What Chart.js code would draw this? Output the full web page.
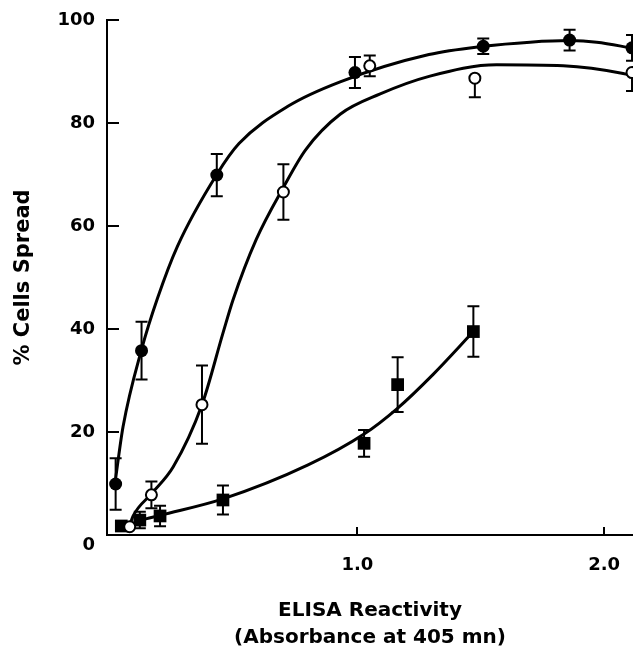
<!DOCTYPE html>
<html>
<head>
<meta charset="utf-8">
<script src="https://cdn.jsdelivr.net/npm/chart.js@4.4.1/dist/chart.umd.min.js"></script>
<style>
  html, body { margin: 0; padding: 0; background: #fff; }
</style>
</head>
<body>
<canvas id="grafico" width="633" height="651"></canvas>
<script>
// puntos medidos (x = absorbancia, y = % celulas)
const filledX = [0.02, 0.125, 0.43, 0.99, 1.51, 1.86, 2.113];
const filledY = [9.9, 35.8, 69.9, 89.8, 94.9, 96.1, 94.6];
const filledErrUp = [5, 5.6, 4.1, 3, 1.5, 2, 2.5];
const filledErrDown = [5, 5.6, 4.1, 3, 1.5, 2, 2.5];

const openX = [0.077, 0.165, 0.37, 0.70, 1.05, 1.476, 2.113];
const openY = [1.6, 7.8, 25.3, 66.6, 91.1, 88.7, 89.8];
const openErrUp = [0, 2.6, 7.6, 5.4, 2, 0, 0];
const openErrDown = [0, 2.6, 7.6, 5.4, 2, 3.7, 3.6];

const squareX = [0.043, 0.118, 0.2, 0.455, 1.027, 1.163, 1.47];
const squareY = [1.75, 2.9, 3.7, 6.8, 17.8, 29.2, 39.5];
const squareErrUp = [0, 1.6, 2, 2.8, 2.6, 5.3, 4.9];
const squareErrDown = [0, 1.6, 2, 2.8, 2.6, 5.3, 4.9];

// curvas ajustadas
const curveFilledX = [0.02, 0.05, 0.125, 0.19, 0.27, 0.43, 0.52, 0.72, 0.93, 1.29, 1.51, 1.70, 1.86, 1.97, 2.117];
const curveFilledY = [11, 21, 36, 46, 56, 70, 76, 83.3, 88, 93.3, 94.9, 95.7, 96.0, 95.7, 94.5];
const curveOpenX = [0.077, 0.09, 0.165, 0.253, 0.37, 0.455, 0.496, 0.59, 0.70, 0.79, 0.93, 1.09, 1.294, 1.564, 1.834, 2.077, 2.117];
const curveOpenY = [1.8, 3.6, 8, 13.2, 25.3, 39.2, 45.7, 57.4, 67.5, 74.8, 81.7, 85.6, 89.1, 91.3, 91.1, 89.6, 89.1];
const curveSquareX = [0.036, 0.12, 0.2, 0.455, 0.8, 1.027, 1.16, 1.307, 1.47];
const curveSquareY = [1.0, 2.8, 3.8, 7, 13.6, 19.6, 24.5, 31.2, 39.5];

const xTicks = [1.0, 2.0];
const yTicks = [0, 20, 40, 60, 80, 100];

const toPoints = (xs, ys) => xs.map((x, i) => ({ x: x, y: ys[i] }));

const errorBars = [
  { x: filledX, y: filledY, up: filledErrUp, down: filledErrDown },
  { x: openX, y: openY, up: openErrUp, down: openErrDown },
  { x: squareX, y: squareY, up: squareErrUp, down: squareErrDown }
];

const errorBarPlugin = {
  id: 'errorBars',
  beforeDatasetsDraw(chart) {
    const ctx = chart.ctx;
    const xs = chart.scales.x, ys = chart.scales.y;
    ctx.save();
    ctx.beginPath();
    ctx.rect(chart.chartArea.left, 0, chart.chartArea.right - chart.chartArea.left, chart.chartArea.bottom);
    ctx.clip();
    ctx.strokeStyle = '#000';
    ctx.lineWidth = 2;
    errorBars.forEach(s => {
      s.x.forEach((xv, i) => {
        const px = xs.getPixelForValue(xv);
        const top = ys.getPixelForValue(s.y[i] + s.up[i]);
        const bot = ys.getPixelForValue(s.y[i] - s.down[i]);
        ctx.beginPath();
        ctx.moveTo(px, top); ctx.lineTo(px, bot);
        if (s.up[i] > 0) { ctx.moveTo(px - 6, top); ctx.lineTo(px + 6, top); }
        if (s.down[i] > 0) { ctx.moveTo(px - 6, bot); ctx.lineTo(px + 6, bot); }
        ctx.stroke();
      });
    });
    ctx.restore();
  }
};

// marcas de escala hacia dentro
const innerTicksPlugin = {
  id: 'innerTicks',
  afterDraw(chart) {
    const ctx = chart.ctx;
    const xs = chart.scales.x, ys = chart.scales.y;
    const area = chart.chartArea;
    ctx.save();
    ctx.strokeStyle = '#000';
    ctx.lineWidth = 2;
    ctx.beginPath();
    xTicks.forEach(v => {
      const px = Math.round(xs.getPixelForValue(v));
      ctx.moveTo(px, area.bottom);
      ctx.lineTo(px, area.bottom - 8);
    });
    yTicks.forEach(v => {
      if (v === 0) return;
      const py = Math.round(ys.getPixelForValue(v));
      ctx.moveTo(area.left, py);
      ctx.lineTo(area.left + 12, py);
    });
    ctx.stroke();
    ctx.restore();
  }
};

const fuente = 'DejaVu Sans';

const lineaCurva = (xs, ys) => ({
  data: toPoints(xs, ys),
  showLine: true,
  borderColor: '#000',
  borderWidth: 3,
  pointRadius: 0,
  cubicInterpolationMode: 'monotone',
  order: 1
});

const ctx = document.getElementById('grafico').getContext('2d');
new Chart(ctx, {
  type: 'scatter',
  data: {
    datasets: [
      {
        label: 'filled',
        data: toPoints(filledX, filledY),
        pointStyle: 'circle',
        pointRadius: 6.5,
        pointBackgroundColor: '#000',
        pointBorderColor: '#000',
        pointBorderWidth: 0,
        order: 0
      },
      {
        label: 'open',
        data: toPoints(openX, openY),
        pointStyle: 'circle',
        pointRadius: 5.5,
        pointBackgroundColor: '#fff',
        pointBorderColor: '#000',
        pointBorderWidth: 2,
        order: 0
      },
      {
        label: 'square',
        data: toPoints(squareX, squareY),
        pointStyle: 'rect',
        pointRadius: 9,
        pointBackgroundColor: '#000',
        pointBorderColor: '#000',
        pointBorderWidth: 0,
        order: 0
      },
      lineaCurva(curveFilledX, curveFilledY),
      lineaCurva(curveOpenX, curveOpenY),
      lineaCurva(curveSquareX, curveSquareY)
    ]
  },
  options: {
    responsive: false,
    animation: false,
    devicePixelRatio: 1,
    layout: { autoPadding: false, padding: { top: 20, right: 0, left: 0, bottom: 0 } },
    plugins: {
      legend: { display: false },
      tooltip: { enabled: false }
    },
    scales: {
      x: {
        type: 'linear',
        position: 'bottom',
        min: -0.015,
        max: 2.117,
        afterBuildTicks: scale => { scale.ticks = xTicks.map(v => ({ value: v })); },
        afterFit: scale => {
          scale.height = 116;
          scale.paddingLeft = 0;
          scale.paddingRight = 0;
        },
        grid: { display: false, drawTicks: false },
        border: { display: true, color: '#000', width: 2 },
        ticks: {
          color: '#000',
          padding: 20,
          autoSkip: false,
          maxRotation: 0,
          font: { family: fuente, size: 18, weight: 'bold' },
          callback: v => Number(v).toFixed(1)
        },
        title: {
          display: true,
          text: ['ELISA Reactivity', '(Absorbance at 405 mn)'],
          color: '#000',
          padding: { top: 0, bottom: 0 },
          font: { family: fuente, size: 20, weight: 'bold', lineHeight: 1.35 }
        }
      },
      y: {
        min: 0,
        max: 100,
        afterBuildTicks: scale => { scale.ticks = yTicks.map(v => ({ value: v })); },
        afterFit: scale => {
          scale.width = 107;
          scale.paddingTop = 0;
          scale.paddingBottom = 0;
        },
        grid: { display: false, drawTicks: false },
        border: { display: true, color: '#000', width: 2 },
        ticks: {
          color: '#000',
          padding: 12,
          font: { family: fuente, size: 18, weight: 'bold' },
          callback: v => (v === 0 ? ['', '0'] : String(v))
        },
        title: {
          display: true,
          text: '% Cells Spread',
          color: '#000',
          padding: { top: 11, bottom: 0 },
          font: { family: fuente, size: 21, weight: 'bold' }
        }
      }
    }
  },
  plugins: [errorBarPlugin, innerTicksPlugin]
});
</script>
</body>
</html>
